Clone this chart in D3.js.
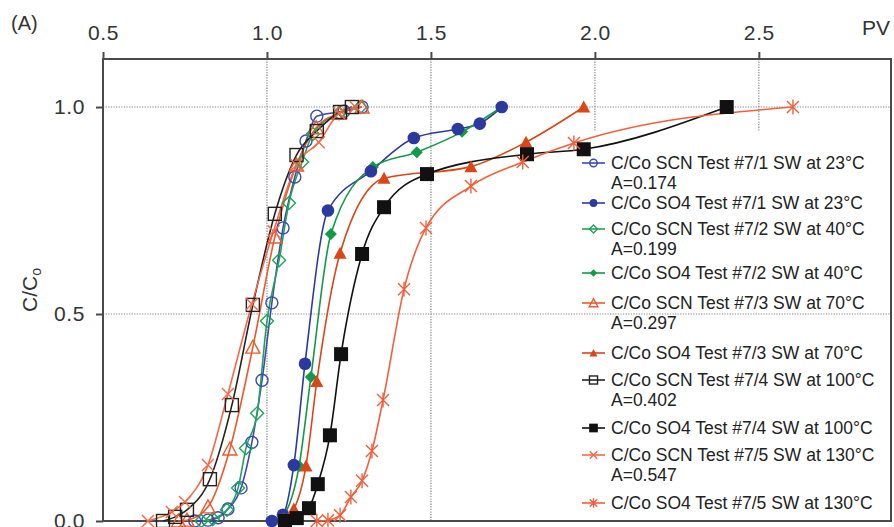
<!DOCTYPE html>
<html>
<head>
<meta charset="utf-8">
<script src="https://cdn.jsdelivr.net/npm/d3@7/dist/d3.min.js"></script>
<style>
  html, body { margin: 0; padding: 0; background: #fff; }
  svg { display: block; font-family: "Liberation Sans", Arial, sans-serif; }
</style>
</head>
<body>
<svg id="chart" width="894" height="527"></svg>
<script>
// Breakthrough curves: C/Co versus pore volumes (PV), SCN and SO4 tracers per test
const xTicks = [0.5, 1.0, 1.5, 2.0, 2.5];
const yTicks = [0.0, 0.5, 1.0];

const scnT1 = [[0.78,0.0],[0.82,0.002],[0.851,0.008],[0.881,0.029],[0.921,0.08],[0.954,0.19],[0.985,0.34],[1.015,0.527],[1.049,0.708],[1.085,0.831],[1.119,0.918],[1.152,0.978],[1.235,0.99],[1.29,1.0]];
const so4T1 = [[1.015,0.0],[1.049,0.015],[1.082,0.135],[1.116,0.38],[1.186,0.75],[1.317,0.845],[1.448,0.925],[1.582,0.947],[1.649,0.96],[1.716,1.0]];
const scnT2 = [[0.80,0.0],[0.835,0.005],[0.878,0.027],[0.912,0.08],[0.936,0.176],[0.97,0.26],[1.0,0.483],[1.037,0.63],[1.067,0.768],[1.107,0.867],[1.14,0.935],[1.22,0.985],[1.285,1.0]];
const so4T2 = [[1.04,0.0],[1.098,0.133],[1.134,0.348],[1.195,0.693],[1.323,0.855],[1.457,0.891],[1.595,0.94],[1.716,1.0]];
const scnT3 = [[0.73,0.0],[0.756,0.002],[0.82,0.034],[0.887,0.174],[0.957,0.42],[1.024,0.686],[1.09,0.86],[1.15,0.95],[1.22,0.985],[1.29,1.0]];
const so4T3 = [[1.05,0.005],[1.082,0.029],[1.119,0.133],[1.152,0.337],[1.223,0.647],[1.357,0.828],[1.622,0.856],[1.79,0.915],[1.966,1.0]];
const scnT4 = [[0.683,0.0],[0.72,0.01],[0.756,0.027],[0.826,0.101],[0.893,0.28],[0.957,0.522],[1.024,0.742],[1.09,0.884],[1.152,0.942],[1.223,0.988],[1.259,1.0]];
const so4T4 = [[1.055,0.0],[1.091,0.007],[1.128,0.031],[1.155,0.089],[1.192,0.207],[1.226,0.403],[1.29,0.645],[1.357,0.758],[1.488,0.838],[1.793,0.886],[1.966,0.898],[2.402,1.0]];
const scnT5 = [[0.637,0.0],[0.71,0.022],[0.75,0.046],[0.82,0.135],[0.881,0.307],[0.954,0.524],[1.02,0.70],[1.09,0.86],[1.158,0.915],[1.22,0.985],[1.27,1.0]];
const so4T5 = [[1.152,0.0],[1.186,0.002],[1.223,0.014],[1.256,0.058],[1.29,0.097],[1.32,0.169],[1.354,0.292],[1.418,0.56],[1.485,0.708],[1.622,0.809],[1.78,0.867],[1.936,0.913],[2.604,1.0]];

const seriesData = [scnT1, so4T1, scnT2, so4T2, scnT3, so4T3, scnT4, so4T4, scnT5, so4T5];
const seriesNames = [
  "C/Co SCN Test #7/1 SW at 23°C", "C/Co SO4 Test #7/1 SW at 23°C",
  "C/Co SCN Test #7/2 SW at 40°C", "C/Co SO4 Test #7/2 SW at 40°C",
  "C/Co SCN Test #7/3 SW at 70°C", "C/Co SO4 Test #7/3 SW at 70°C",
  "C/Co SCN Test #7/4 SW at 100°C", "C/Co SO4 Test #7/4 SW at 100°C",
  "C/Co SCN Test #7/5 SW at 130°C", "C/Co SO4 Test #7/5 SW at 130°C"
];
const seriesNotes = ["A=0.174", "", "A=0.199", "", "A=0.297", "", "A=0.402", "", "A=0.547", ""];
const seriesColors = ["#3b4bb0", "#2c3a9f", "#22a25c", "#129a48", "#ea5a2c", "#da4617", "#222222", "#111111", "#f36a48", "#f0603c"];
const seriesMarkers = ["circleOpen", "circleFilled", "diamondOpen", "diamondFilled", "triangleOpen", "triangleFilled", "squareOpen", "squareFilled", "cross", "asterisk"];
// stacking order of the marker layers (the SO4 #7/1 circles sit above the SO4 #7/2 diamonds)
const markerOrder = [0, 2, 3, 1, 4, 5, 6, 7, 8, 9];

const svg = d3.select("#chart");
const plotLeft = 103, plotRight = 891, plotTop = 59, plotBottom = 521;

const x = d3.scaleLinear().domain([0.5, 2.903]).range([plotLeft, plotRight]);
const y = d3.scaleLinear().domain([0, 1.116]).range([plotBottom, plotTop]);

const gridColor = "#8a8a8a";
const frameColor = "#4a4a4a";

// vertical grid lines
svg.append("g").selectAll("line").data(xTicks.filter(v => v > 0.5)).join("line")
  .attr("x1", d => x(d)).attr("x2", d => x(d))
  .attr("y1", plotTop).attr("y2", plotBottom)
  .attr("stroke", gridColor).attr("stroke-width", 1.2).attr("stroke-dasharray", "1.3,1.3");

// horizontal grid line at 1.0
svg.append("line")
  .attr("x1", plotLeft).attr("x2", plotRight).attr("y1", y(1.0)).attr("y2", y(1.0))
  .attr("stroke", gridColor).attr("stroke-width", 1.2).attr("stroke-dasharray", "1.3,1.3");

// legend panel
const legendLeft = 572, legendTop = 131;
svg.append("rect")
  .attr("x", legendLeft).attr("y", legendTop)
  .attr("width", plotRight - legendLeft).attr("height", plotBottom - legendTop)
  .attr("fill", "#fff");

// horizontal grid line at 0.5
svg.append("line")
  .attr("x1", plotLeft).attr("x2", plotRight).attr("y1", y(0.5)).attr("y2", y(0.5))
  .attr("stroke", gridColor).attr("stroke-width", 1.2).attr("stroke-dasharray", "1.3,1.3");

// plot frame
svg.append("rect")
  .attr("x", plotLeft).attr("y", plotTop).attr("width", plotRight - plotLeft).attr("height", plotBottom - plotTop)
  .attr("fill", "none").attr("stroke", frameColor).attr("stroke-width", 2);

// axes
const xAxis = svg.append("g").attr("transform", `translate(0,${plotTop})`)
  .call(d3.axisTop(x).tickValues(xTicks).tickFormat(d3.format(".1f")).tickSize(7).tickSizeOuter(0).tickPadding(12));
const yAxis = svg.append("g").attr("transform", `translate(${plotLeft},0)`)
  .call(d3.axisLeft(y).tickValues(yTicks).tickFormat(d3.format(".1f")).tickSize(7).tickSizeOuter(0).tickPadding(11));
[xAxis, yAxis].forEach(a => {
  a.select(".domain").remove();
  a.selectAll(".tick line").attr("stroke", frameColor).attr("stroke-width", 2);
  a.selectAll(".tick text").attr("fill", "#333").attr("font-size", 21)
    .attr("font-family", "'Liberation Sans', Arial, sans-serif").attr("letter-spacing", "0.6px");
});

// titles
svg.append("text").attr("x", 11).attr("y", 30).attr("font-size", 20).attr("fill", "#333").text("(A)");
svg.append("text").attr("x", 890).attr("y", 35).attr("text-anchor", "end")
  .attr("font-size", 21).attr("fill", "#333").text("PV");
const yt = svg.append("text").attr("transform", "translate(37,290) rotate(-90)")
  .attr("text-anchor", "middle").attr("font-size", 21).attr("fill", "#333");
yt.append("tspan").text("C/C");
yt.append("tspan").attr("font-size", 14).attr("dy", 4).text("o");

// marker shapes
function drawMarker(g, type, cx, cy, color, s) {
  const m = g.append("g").attr("transform", `translate(${cx},${cy}) scale(${s})`);
  const sw = 1.4 / s;
  switch (type) {
    case "circleOpen":
      m.append("circle").attr("r", 6).attr("fill", "none").attr("stroke", color).attr("stroke-width", sw); break;
    case "circleFilled":
      m.append("circle").attr("r", 6.3).attr("fill", color); break;
    case "diamondOpen":
      m.append("path").attr("d", "M0,-6.5L6.5,0L0,6.5L-6.5,0Z").attr("fill", "none").attr("stroke", color).attr("stroke-width", sw); break;
    case "diamondFilled":
      m.append("path").attr("d", "M0,-6L6,0L0,6L-6,0Z").attr("fill", color); break;
    case "triangleOpen":
      m.append("path").attr("d", "M0,-7L7,6L-7,6Z").attr("fill", "none").attr("stroke", color).attr("stroke-width", sw); break;
    case "triangleFilled":
      m.append("path").attr("d", "M0,-6.5L6.5,5.5L-6.5,5.5Z").attr("fill", color); break;
    case "squareOpen":
      m.append("rect").attr("x", -6.5).attr("y", -6.5).attr("width", 13).attr("height", 13)
        .attr("fill", "none").attr("stroke", color).attr("stroke-width", sw); break;
    case "squareFilled":
      m.append("rect").attr("x", -7).attr("y", -7).attr("width", 14).attr("height", 14).attr("fill", color); break;
    case "cross":
      m.append("path").attr("d", "M-6,-6L6,6M-6,6L6,-6").attr("stroke", color).attr("stroke-width", sw); break;
    case "asterisk":
      m.append("path").attr("d", "M-6,-6L6,6M-6,6L6,-6M0,-7.5L0,7.5").attr("stroke", color).attr("stroke-width", sw); break;
  }
}

// series: smooth lines with markers
const line = d3.line().x(d => x(d[0])).y(d => y(d[1])).curve(d3.curveMonotoneX);
const plot = svg.append("g");
seriesData.forEach((data, i) => {
  plot.append("path").datum(data).attr("d", line)
    .attr("fill", "none").attr("stroke", seriesColors[i]).attr("stroke-width", 1.6);
});
markerOrder.forEach(i => {
  const mg = plot.append("g");
  seriesData[i].forEach(d => drawMarker(mg, seriesMarkers[i], x(d[0]), y(d[1]), seriesColors[i], 1));
});

// legend entries
const rowY = [163, 203, 229, 273, 303, 353, 380, 428, 455, 503];
const legend = svg.append("g");
seriesNames.forEach((name, i) => {
  const ry = rowY[i];
  legend.append("line").attr("x1", 582).attr("x2", 605).attr("y1", ry).attr("y2", ry)
    .attr("stroke", seriesColors[i]).attr("stroke-width", 1.6);
  drawMarker(legend, seriesMarkers[i], 593.5, ry, seriesColors[i], 0.62);
  legend.append("text").attr("x", 611).attr("y", ry).attr("dy", "0.36em")
    .attr("font-size", 17.5).attr("fill", "#222").text(name);
  if (seriesNotes[i]) {
    legend.append("text").attr("x", 611).attr("y", ry + 20).attr("dy", "0.36em")
      .attr("font-size", 17.5).attr("fill", "#222").text(seriesNotes[i]);
  }
});
</script>
</body>
</html>
